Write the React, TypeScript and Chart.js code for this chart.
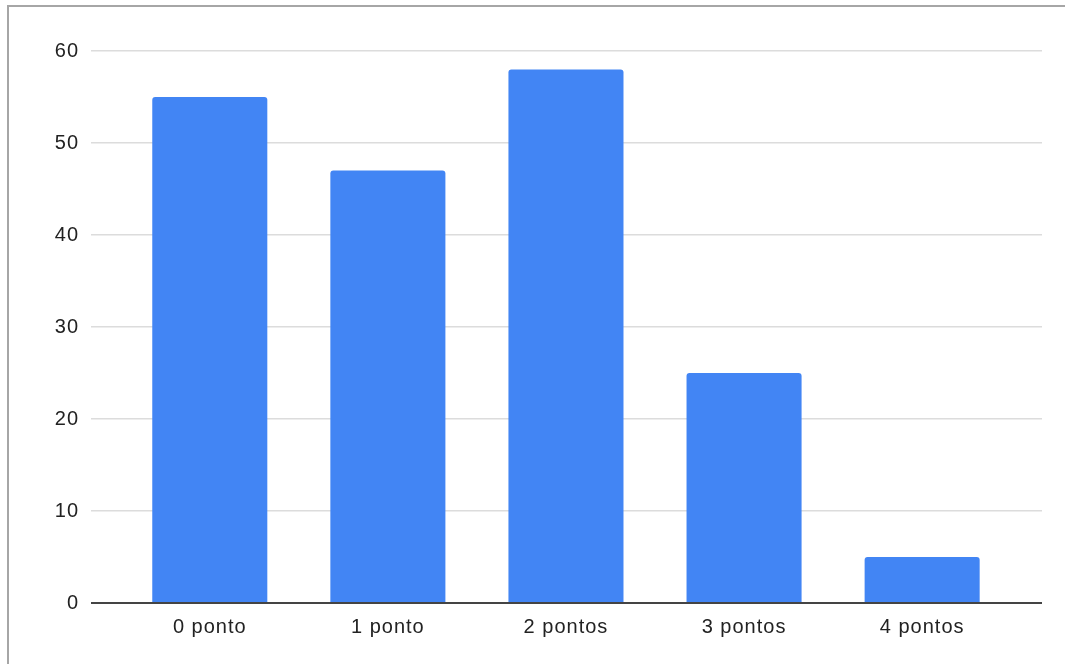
import React, { useEffect, useRef } from "react";
import { Chart, registerables } from "chart.js";

Chart.register(...registerables);

const categories = ["0 ponto", "1 ponto", "2 pontos", "3 pontos", "4 pontos"];
const counts = [55, 47, 58, 25, 5];
const yTicks = [0, 10, 20, 30, 40, 50, 60];

const FONT = "'Liberation Sans', Arial, sans-serif";

// Slightly spaced-out label text
const letterSpacingPlugin = {
  id: "labelSpacing",
  beforeLayout(chart: any) {
    chart.ctx.letterSpacing = "1px";
  },
  beforeDraw(chart: any) {
    chart.ctx.letterSpacing = "1px";
  },
};

export default function App() {
  const canvasRef = useRef<HTMLCanvasElement | null>(null);

  useEffect(() => {
    const canvas = canvasRef.current;
    if (!canvas) return;
    const chart = new Chart(canvas, {
      type: "bar",
      data: {
        datasets: [
          {
            data: counts.map((v, i) => ({ x: i, y: v })),
            backgroundColor: "#4285f4",
            borderRadius: { topLeft: 3, topRight: 3, bottomLeft: 0, bottomRight: 0 },
            borderSkipped: "start",
            categoryPercentage: 1,
            barPercentage: 0.646,
          },
        ],
      },
      plugins: [letterSpacingPlugin],
      options: {
        animation: false,
        responsive: false,
        maintainAspectRatio: false,
        layout: { padding: { left: 0, top: 51, right: 23, bottom: 0 } },
        plugins: {
          legend: { display: false },
          tooltip: { enabled: false },
        },
        scales: {
          x: {
            type: "linear",
            min: -0.667,
            max: 4.673,
            offset: false,
            grid: { display: false, offset: false },
            border: { display: false },
            afterBuildTicks: (scale: any) => {
              scale.ticks = categories.map((_, i) => ({ value: i }));
            },
            afterFit: (scale: any) => {
              scale.height = 61;
            },
            ticks: {
              autoSkip: false,
              maxRotation: 0,
              padding: 4,
              color: "#222",
              font: { family: FONT, size: 20 },
              callback: (v: any) => categories[Math.round(Number(v))] ?? "",
            },
          },
          y: {
            min: 0,
            max: 60,
            afterBuildTicks: (scale: any) => {
              scale.ticks = yTicks.map((v) => ({ value: v }));
            },
            afterFit: (scale: any) => {
              scale.width = 91;
            },
            border: { display: false },
            grid: {
              drawTicks: false,
              color: (ctx: any) => (ctx.tick && ctx.tick.value === 0 ? "#444" : "#dcdcdc"),
              lineWidth: (ctx: any) => (ctx.tick && ctx.tick.value === 0 ? 2 : 1.5),
            },
            ticks: {
              padding: 12,
              color: "#222",
              font: { family: FONT, size: 20 },
            },
          },
        },
      },
    });
    return () => chart.destroy();
  }, []);

  return (
    <div
      style={{
        position: "absolute",
        left: 0,
        top: 0,
        width: 1065,
        height: 664,
        background: "#fff",
        overflow: "hidden",
      }}
    >
      <div
        style={{
          position: "absolute",
          left: 7,
          top: 5,
          width: 1070,
          height: 670,
          borderTop: "2px solid #a6a6a6",
          borderLeft: "2px solid #a6a6a6",
          boxSizing: "border-box",
        }}
      />
      <canvas
        ref={canvasRef}
        width={1065}
        height={664}
        style={{ position: "absolute", left: 0, top: 0, width: 1065, height: 664 }}
      />
    </div>
  );
}
